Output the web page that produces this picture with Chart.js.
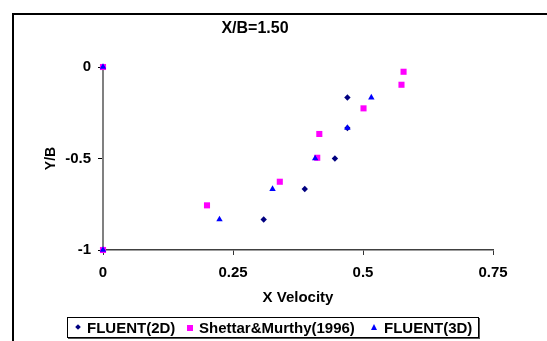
<!DOCTYPE html>
<html>
<head>
<meta charset="utf-8">
<script src="https://cdn.jsdelivr.net/npm/chart.js@4/dist/chart.umd.min.js"></script>
<style>
  body { margin:0; background:#fff; font-family:"Liberation Sans", Arial, sans-serif; }
  #wrap { position:relative; width:547px; height:341px; overflow:hidden; }
  #frame { position:absolute; left:12px; top:13px; width:600px; height:400px;
           border-left:2px solid #000; border-top:2px solid #000; }
  #myChart { position:absolute; left:0; top:0; }
  #title { position:absolute; left:0; width:510px; top:19px; text-align:center;
           font-weight:bold; font-size:16px; }
  #legend { position:absolute; left:67px; top:317px; width:410px; height:19px;
            border:1px solid #000; box-shadow:1px 1px 0 #555; font-weight:bold; font-size:15px; }
  .item { position:absolute; top:1px; line-height:18px; white-space:nowrap; }
  .mk { position:absolute; }
</style>
</head>
<body>
<div id="wrap">
  <div id="frame"></div>
  <canvas id="myChart" width="547" height="341"></canvas>
  <div id="title">X/B=1.50</div>
  <div id="legend"></div>
</div>
<script>
// series data
let seriesNames=['FLUENT(2D)','Shettar&Murthy(1996)','FLUENT(3D)'];
let fluent2dX=[0,0.470,0.470,0.446,0.388,0.309,0];
let fluent2dY=[0,-0.167,-0.333,-0.5,-0.667,-0.833,-1];
let shettarX=[0,0.578,0.574,0.501,0.416,0.412,0.340,0.200,0];
let shettarY=[0,-0.026,-0.097,-0.226,-0.366,-0.496,-0.627,-0.756,-1];
let fluent3dX=[0,0.516,0.470,0.408,0.326,0.224,0];
let fluent3dY=[0,-0.167,-0.333,-0.5,-0.667,-0.833,-1];
let xTicks=[0,0.25,0.5,0.75];
let yTicks=[0,-0.5,-1];

let colors=['#000080','#FF00FF','#0000FF'];
let shapes=['rectRot','rect','triangle'];
let radii=[3.2,4.3,3.7];

function toPoints(xs,ys){
    return xs.map(function(x,i){return {x:x,y:ys[i]}});
}

const ThisChart=document.getElementById('myChart');
var scatter=new Chart(ThisChart,{
    type:'scatter',
    data:{
        datasets:[
            {label:seriesNames[0],data:toPoints(fluent2dX,fluent2dY),order:3},
            {label:seriesNames[1],data:toPoints(shettarX,shettarY),order:2},
            {label:seriesNames[2],data:toPoints(fluent3dX,fluent3dY),order:1}
        ].map(function(d,i){
            d.pointStyle=shapes[i];
            d.pointRadius=radii[i];
            d.pointHoverRadius=radii[i];
            d.backgroundColor=colors[i];
            d.borderColor=colors[i];
            d.borderWidth=0;
            d.clip=false;
            return d;
        })
    },
    options:{
        responsive:false,
        animation:false,
        events:[],
        layout:{padding:{top:67,right:54,left:0,bottom:0}},
        plugins:{legend:{display:false},tooltip:{enabled:false},title:{display:false}},
        scales:{
            x:{
                type:'linear',min:0,max:0.75,
                afterBuildTicks:function(s){s.ticks=xTicks.map(function(v){return {value:v}})},
                afterFit:function(s){s.height=91},
                grid:{drawOnChartArea:false,drawTicks:true,tickLength:5,color:'#333'},
                border:{display:true,color:'#404040',width:1.5},
                ticks:{color:'#000',padding:9,font:{family:'Liberation Sans',size:15,weight:'bold'},
                    callback:function(v){return String(v)}},
                title:{display:true,text:'X Velocity',color:'#000',padding:{bottom:34},
                    font:{family:'Liberation Sans',size:15,weight:'bold'}}
            },
            y:{
                type:'linear',min:-1,max:0,
                afterBuildTicks:function(s){s.ticks=yTicks.map(function(v){return {value:v}})},
                afterFit:function(s){s.width=103},
                grid:{drawOnChartArea:false,drawTicks:true,tickLength:5,color:'#000'},
                border:{display:true,color:'#808080',width:2},
                ticks:{color:'#000',padding:7,font:{family:'Liberation Sans',size:15,weight:'bold'},
                    callback:function(v){return String(v)}},
                title:{display:true,text:'Y/B',color:'#000',padding:{top:43},
                    font:{family:'Liberation Sans',size:14,weight:'bold'}}
            }
        }
    }
});

// legend box under the chart
let legendDom=document.getElementById('legend');
let itemLeft=[19,131,316];
let markLeft=[8,119,303];
seriesNames.forEach(function(name,i){
    let mk=document.createElement('div');
    mk.className='mk';
    if(i==0){
        mk.style.cssText='left:'+markLeft[i]+'px;top:7px;width:4px;height:4px;background:'+colors[i]+';transform:rotate(45deg)';
    }else if(i==1){
        mk.style.cssText='left:'+markLeft[i]+'px;top:7px;width:6px;height:6px;background:'+colors[i];
    }else{
        mk.style.cssText='left:'+markLeft[i]+'px;top:6px;width:0;height:0;border-left:3px solid transparent;border-right:3px solid transparent;border-bottom:6px solid '+colors[i];
    }
    legendDom.appendChild(mk);
    let it=document.createElement('span');
    it.className='item';
    it.style.left=itemLeft[i]+'px';
    it.textContent=name;
    legendDom.appendChild(it);
});
</script>
</body>
</html>
